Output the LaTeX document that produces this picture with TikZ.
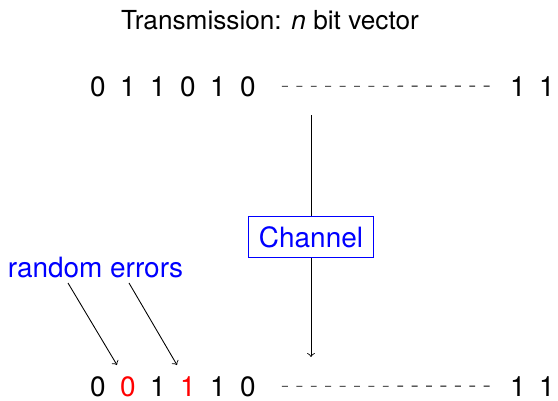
\documentclass[tikz,border=0pt]{standalone}
\usepackage{fontspec}
\setmainfont{TeX Gyre Heros}
\usepackage{tikz}
\newcommand{\bitfont}{\fontsize{12.8}{15}\selectfont}
\tikzstyle{bit}=[inner sep=0, outer sep=0, font=\bitfont]
\tikzstyle{flip}=[bit, text=red]
\tikzstyle{channelbox}=[draw=blue, text=blue, fill=white, inner sep=4.6pt, font=\bitfont]
\tikzstyle{gapline}=[dash pattern=on 2.7pt off 3.9pt]
\tikzstyle{bitpicture}=[x=0.458pt, y=-0.458pt,
                        % keep the page at the reference size
                        execute at begin picture={\useasboundingbox (0,0) rectangle (558,401);}]

\begin{document}
\begin{tikzpicture}[bitpicture]
        \node[anchor=base, font=\fontsize{12}{14}\selectfont] (title) at (270, 29) {Transmission: \textit{n} bit vector};
        \foreach \b [count=\i] in {0,1,1,0,1,0}
            \node[bit, anchor=base] (t\i) at (68+30*\i, 96) {\b};
        \node[bit, anchor=base] (t7) at (518, 96) {1};
        \node[bit, anchor=base] (t8) at (547, 96) {1};
        \foreach \b/\s [count=\i] in {0/bit,0/flip,1/bit,1/flip,1/bit,0/bit}
            \node[\s, anchor=base] (r\i) at (68+30*\i, 396) {\b};
        \node[bit, anchor=base] (r7) at (518, 396) {1};
        \node[bit, anchor=base] (r8) at (547, 396) {1};
        \draw[gapline, shorten <=12pt, shorten >=9.2pt] (t6) -- (t7);
        \draw[gapline, shorten <=12pt, shorten >=9.2pt] (r6) -- (r7);
        \coordinate (chin) at (311, 115);
        \coordinate (chout) at (311, 357);
        \node[channelbox] (channel) at (311, 237) {Channel};
        \draw[->] (chin) -- (channel) -- (chout);
        \node[anchor=base, text=blue, inner sep=0, font=\bitfont] (errors) at (95.5, 277) {random errors};
        \coordinate (err1) at (68, 283);
        \coordinate (err2) at (129, 283);
        \coordinate (hit1) at (117, 365);
        \coordinate (hit2) at (177, 365);
        \draw[->] (err1) -- (hit1);
        \draw[->] (err2) -- (hit2);
    \end{tikzpicture}
\end{document}
